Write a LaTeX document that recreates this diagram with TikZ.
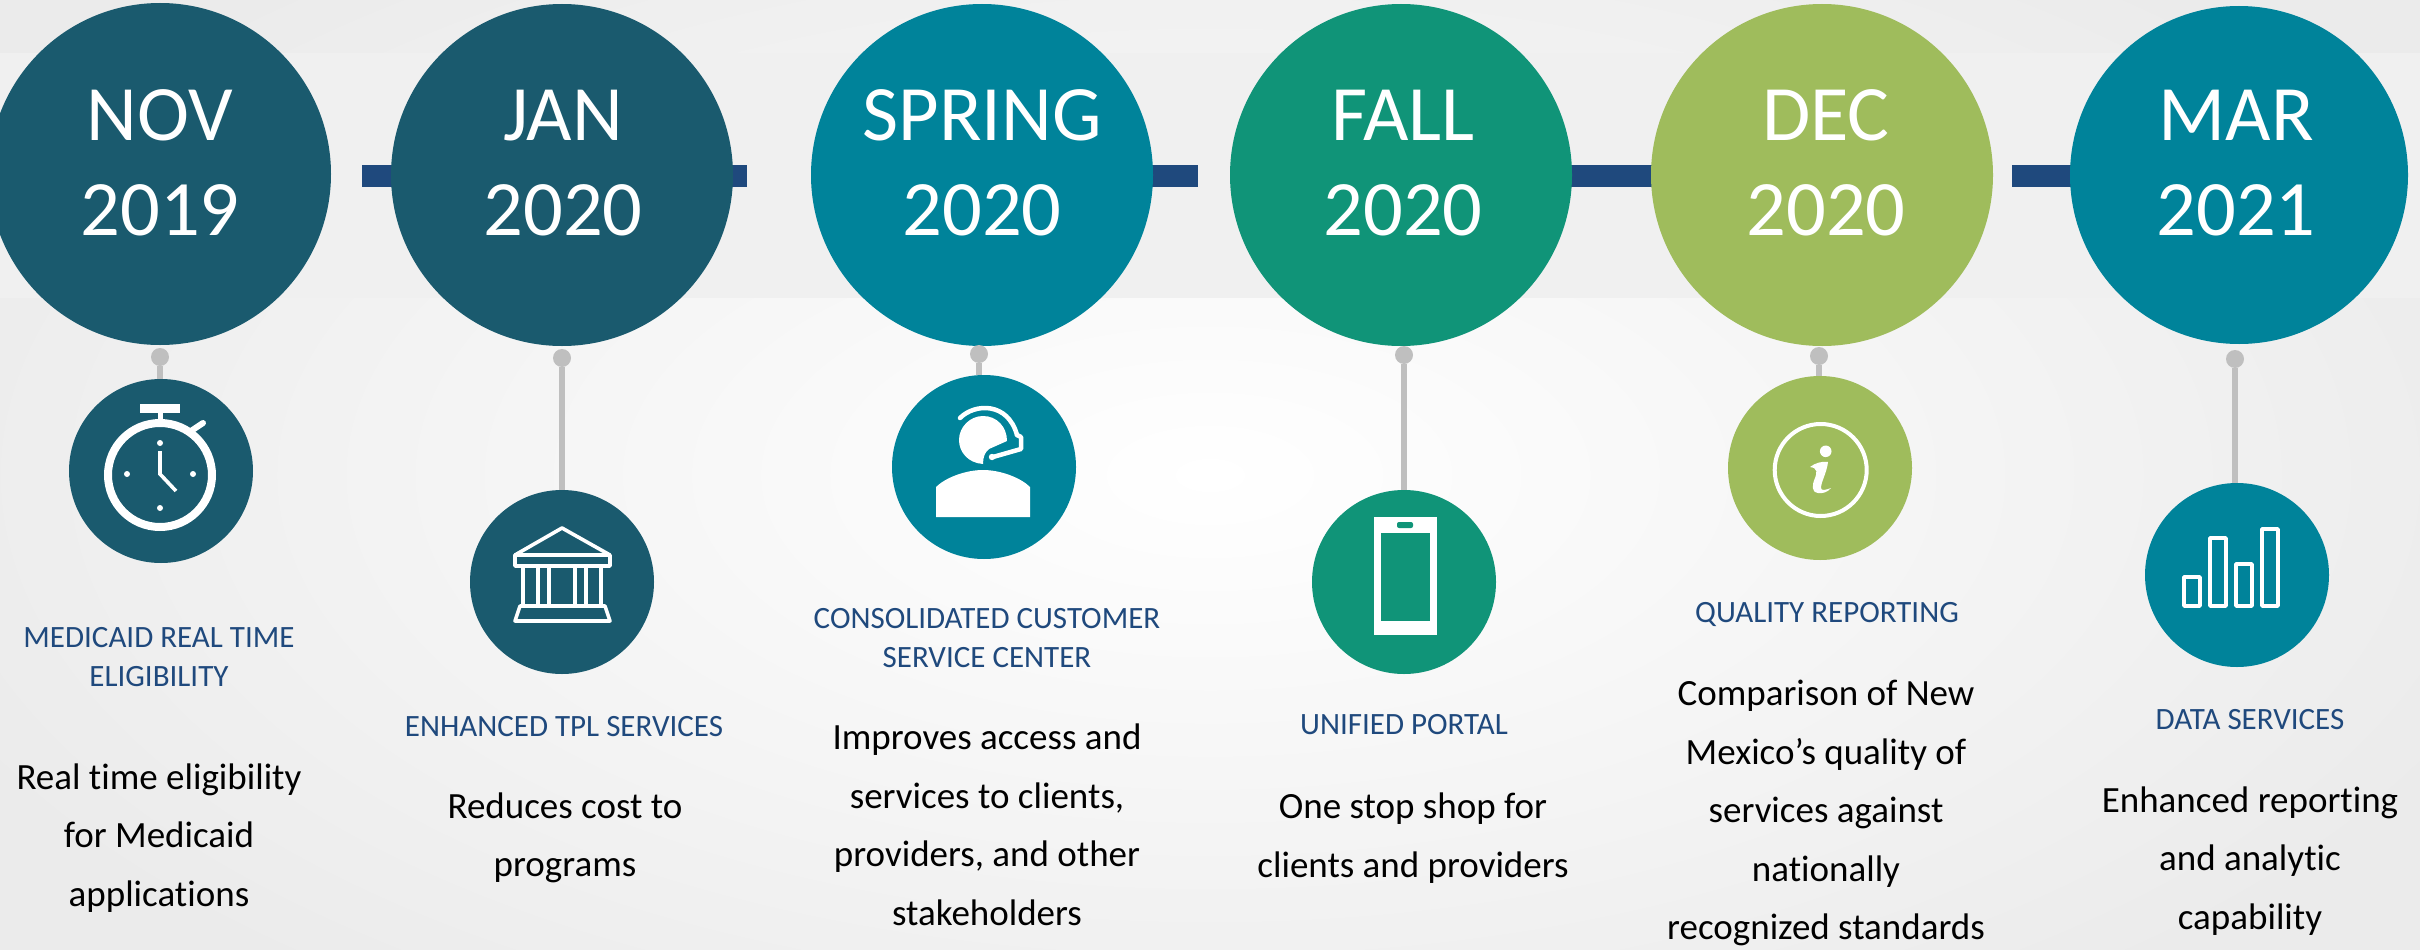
\documentclass[tikz,border=0pt]{standalone}
\usepackage{fontspec}
\setmainfont[Ligatures=NoCommon]{Carlito}
\definecolor{cdark}{HTML}{1A5A6E}
\definecolor{cteal}{HTML}{00839A}
\definecolor{cgreen}{HTML}{109478}
\definecolor{clime}{HTML}{9FBC5C}
\definecolor{cbar}{HTML}{1F497D}
\definecolor{cgrey}{HTML}{BFBFBF}
\tikzset{
 x=1pt,y=-1pt,
 bigc/.style={circle,minimum size=342pt,inner sep=0pt,fill=#1},
 smallc/.style={circle,minimum size=184pt,inner sep=0pt,fill=#1},
 pin/.style={circle,minimum size=18pt,inner sep=0pt,fill=cgrey},
 stem/.style={draw=cgrey,line width=6pt},
 datetxt/.style={text=white,align=center,font=\fontsize{78.5}{95}\selectfont,inner sep=0pt},
 headtxt/.style={text=cbar,align=center,font=\fontsize{31}{38.5}\selectfont,inner sep=0pt},
 bodytxt/.style={text=black,align=center,font=\fontsize{37}{58.5}\selectfont,inner sep=0pt},
 barseg/.style={fill=cbar},
 ico/.style={draw=white,line width=3.6pt,line join=round},
}
\begin{document}
\begin{tikzpicture}
\useasboundingbox (0,0) rectangle (2420,950);
\clip (0,0) rectangle (2420,950);
% background
\shade[inner color=white,outer color=black!8] (-200,-200) rectangle (2620,1150);
\fill[black!6] (0,53) rectangle (2420,298);
% bars
\fill[barseg] (362,165) rectangle (747,187);
\fill[barseg] (1100,165) rectangle (1198,187);
\fill[barseg] (1500,165) rectangle (1700,187);
\fill[barseg] (2012,165) rectangle (2100,187);
% big circles
\node[bigc=cdark] (b1) at (160,174) {};
\node[bigc=cdark] (b2) at (562,175) {};
\node[bigc=cteal] (b3) at (982,175) {};
\node[bigc=cgreen] (b4) at (1401,175) {};
\node[bigc=clime] (b5) at (1822,175) {};
\node[bigc=cteal,minimum size=338pt] (b6) at (2239,175) {};
% pins
\node[pin] (p1) at (160,357) {};
\node[pin] (p2) at (562,358) {};
\node[pin] (p3) at (979,354) {};
\node[pin] (p4) at (1404,355) {};
\node[pin] (p5) at (1819,356) {};
\node[pin] (p6) at (2235,359) {};
% small circles
\node[smallc=cdark] (s1) at (161,471) {};
\node[smallc=cdark] (s2) at (562,582) {};
\node[smallc=cteal] (s3) at (984,467) {};
\node[smallc=cgreen] (s4) at (1404,582) {};
\node[smallc=clime] (s5) at (1820,468) {};
\node[smallc=cteal] (s6) at (2237,575) {};
% stems
\begin{scope}
\draw[stem] (p1) -- (p1 |- s1.north);
\draw[stem] (p2) -- (p2 |- s2.north);
\draw[stem] (p3) -- (p3 |- s3.north);
\draw[stem] (p4) -- (p4 |- s4.north);
\draw[stem] (p5) -- (p5 |- s5.north);
\draw[stem] (p6) -- (p6 |- s6.north);
\end{scope}
% dates
\node[datetxt] (d1) at (160,163) {NOV\\2019};
\node[datetxt] (d2) at (563,163) {JAN\\2020};
\node[datetxt] (d3) at (982,163) {SPRING\\2020};
\node[datetxt] (d4) at (1403,163) {FALL\\2020};
\node[datetxt] (d5) at (1826,163) {DEC\\2020};
\node[datetxt] (d6) at (2236,163) {MAR\\2021};
% headings
\node[headtxt] (h1) at (159,657) {MEDICAID REAL TIME\\ELIGIBILITY};
\node[headtxt] (h2) at (564,727) {ENHANCED TPL SERVICES};
\node[headtxt] (h3) at (987,638) {CONSOLIDATED CUSTOMER\\SERVICE CENTER};
\node[headtxt] (h4) at (1404,725) {UNIFIED PORTAL};
\node[headtxt] (h5) at (1827,614) {QUALITY REPORTING};
\node[headtxt] (h6) at (2250,720) {DATA SERVICES};
% body
\node[bodytxt] (t1) at (159,838) {Real time eligibility\\for Medicaid\\applications};
\node[bodytxt] (t2) at (565,838) {Reduces cost to\\programs};
\node[bodytxt] (t3) at (987,825) {Improves access and\\services to clients,\\providers, and other\\stakeholders};
\node[bodytxt] (t4) at (1413,838) {One stop shop for\\clients and providers};
\node[bodytxt] (t5) at (1826,813) {Comparison of New\\Mexico’s quality of\\services against\\nationally\\recognized standards};
\node[bodytxt] (t6) at (2250,861) {Enhanced reporting\\and analytic\\capability};
% stopwatch
\draw[draw=white,line width=8pt] (160,475) circle (52);
\fill[white] (140,404) rectangle (180,413);
\fill[white] (157.5,413) rectangle (162.5,422);
\draw[white,line width=6pt,line cap=round] (191,431) -- (203,423);
\fill[white] (160,443) circle (3);
\fill[white] (127,474) circle (3);
\fill[white] (193,474) circle (3);
\fill[white] (160,508) circle (3);
\draw[white,line width=3.6pt] (160,451) -- (160,474) -- (176,491);
% bank
\draw[ico] (515,555) -- (562,528) -- (610,555);
\draw[ico] (515,555) rectangle (610,566);
\draw[ico] (523,566) -- (523,606) (538,566) -- (538,606) (549,566) -- (549,606)
  (575,566) -- (575,606) (586,566) -- (586,606) (601,566) -- (601,606);
\draw[ico] (520,606) -- (605,606) -- (610,621) -- (515,621) -- cycle;
% headset person
\fill[white] (936,517) -- (936,487) .. controls (945,478) and (965,470) .. (983,470)
  .. controls (1001,470) and (1021,478) .. (1030,487) -- (1030,517) -- cycle;
\fill[white] (983,464) .. controls (968,463) and (959,452) .. (959,440)
  .. controls (959,427) and (970,416) .. (983,416)
  .. controls (997,416) and (1007,427) .. (1007,441)
  -- (989,449) .. controls (985,452) and (983,457) .. (983,464) -- cycle;
\draw[white,line width=4.5pt,line cap=round] (960,418) .. controls (975,403) and (1008,402) .. (1017,435);
\draw[white,line width=4.5pt,line cap=round,line join=round] (1017,435) -- (1021,437) -- (1021,449) -- (993,457);
\fill[white] (992,457) circle (3.2);
% phone
\fill[white] (1373.5,517) rectangle (1437,635);
\fill[cgreen] (1381,533) rectangle (1430,621);
\fill[cgreen,rounded corners=2pt] (1397,522) rectangle (1413,528);
% info
\draw[white,line width=4pt] (1820.7,470) circle (46);
\fill[white] (1825.7,451.3) circle (5.8);
\fill[white] (1810,467) .. controls (1815,463) and (1822,461) .. (1828,462)
  .. controls (1827,472) and (1821,482) .. (1821,488)
  .. controls (1821,491) and (1826,490) .. (1831,488)
  .. controls (1828,492) and (1822,494) .. (1818,493)
  .. controls (1811,492) and (1812,485) .. (1815,478)
  .. controls (1817,473) and (1818,468) .. (1810,467) -- cycle;
% bars icon
\draw[ico] (2184,577) rectangle (2200,606);
\draw[ico] (2210,538) rectangle (2226,606);
\draw[ico] (2236,564) rectangle (2252,606);
\draw[ico] (2262,529) rectangle (2278,606);
\end{tikzpicture}
\end{document}
